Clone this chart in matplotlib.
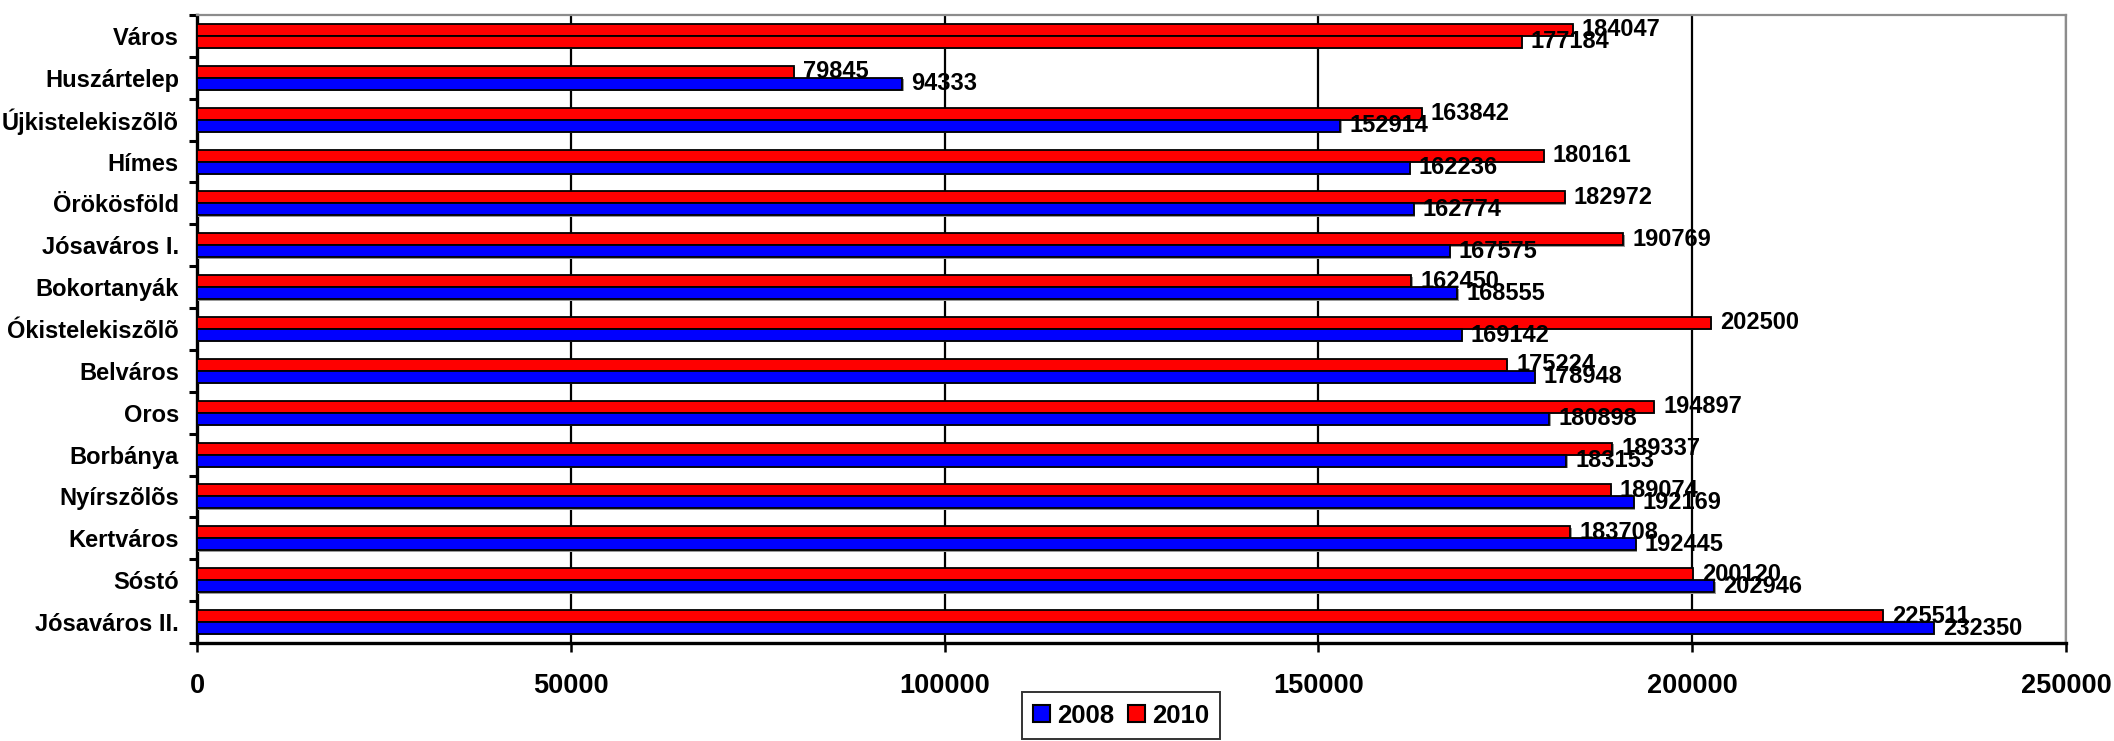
import matplotlib
matplotlib.use("Agg")
import matplotlib.pyplot as plt
import matplotlib.patheffects as pe
from matplotlib.patches import Patch
import numpy as np

categories = ["Város", "Huszártelep", "Újkistelekiszõlõ", "Hímes", "Örökösföld",
              "Jósaváros I.", "Bokortanyák", "Ókistelekiszõlõ", "Belváros", "Oros",
              "Borbánya", "Nyírszõlõs", "Kertváros", "Sóstó", "Jósaváros II."]
values_2008 = [177184, 94333, 152914, 162236, 162774, 167575, 168555, 169142,
               178948, 180898, 183153, 192169, 192445, 202946, 232350]
values_2010 = [184047, 79845, 163842, 180161, 182972, 190769, 162450, 202500,
               175224, 194897, 189337, 189074, 183708, 200120, 225511]
series_labels = ["2008", "2010"]
x_ticks = [0, 50000, 100000, 150000, 200000, 250000]

BLUE = "#0000FF"
RED = "#FF0000"
FONT = "Liberation Sans"

plt.rcParams['font.family'] = [FONT, 'DejaVu Sans']
plt.rcParams['font.weight'] = 'bold'

fig = plt.figure(figsize=(21.14, 7.41), dpi=100)
ax = fig.add_axes([197/2114, 1-643/741, (2066-197)/2114, (643-15)/741])

n = len(categories)
y = np.arange(n)
h = 0.287
colors_2008 = [RED] + [BLUE] * (n - 1)

shadow = [pe.SimplePatchShadow(offset=(1.0, -1.0), shadow_rgbFace='#999999', alpha=1.0), pe.Normal()]

b10 = ax.barh(y - h/2, values_2010, height=h, color=RED, edgecolor='black',
              linewidth=1.3, zorder=3)
b08 = ax.barh(y + h/2, values_2008, height=h, color=colors_2008, edgecolor='black',
              linewidth=1.3, zorder=3)
for b in list(b10) + list(b08):
    b.set_path_effects(shadow)

for yi, v in zip(y - h/2, values_2010):
    ax.annotate(f"{v}", (v, yi), xytext=(6.5, 0), textcoords='offset points',
                va='center', ha='left', fontsize=17, fontweight='bold', zorder=5)
for yi, v in zip(y + h/2, values_2008):
    ax.annotate(f"{v}", (v, yi), xytext=(6.5, 0), textcoords='offset points',
                va='center', ha='left', fontsize=17, fontweight='bold', zorder=5)

ax.set_xlim(0, 250000)
ax.set_ylim(n - 0.5, -0.5)

ax.set_xticks(x_ticks)
ax.set_xticklabels([str(t) for t in x_ticks], fontsize=19.5, fontweight='bold')
ax.tick_params(axis='x', direction='out', length=6.5, width=1.8, pad=15, colors='black')

ax.set_yticks(np.arange(-0.5, n, 1.0))
ax.set_yticklabels([])
ax.tick_params(axis='y', which='major', direction='out', length=5.5, width=2.2)
ax.set_yticks(y, minor=True)
ax.set_yticklabels(categories, minor=True, fontsize=17, fontweight='bold')
ax.tick_params(axis='y', which='minor', length=0, pad=13)

ax.xaxis.grid(True, color='black', linewidth=1.6, zorder=0)
ax.set_axisbelow(True)

ax.spines['left'].set_linewidth(2.4)
ax.spines['bottom'].set_linewidth(2.4)
ax.spines['left'].set_color('black')
ax.spines['bottom'].set_color('black')
ax.spines['top'].set_color('#8c8c8c')
ax.spines['top'].set_linewidth(1.6)
ax.spines['right'].set_color('#8c8c8c')
ax.spines['right'].set_linewidth(1.6)

handles = [Patch(facecolor=BLUE, edgecolor='black', linewidth=1.5),
           Patch(facecolor=RED, edgecolor='black', linewidth=1.5)]
leg = fig.legend(handles, series_labels, loc='upper center',
                 bbox_to_anchor=(1121/2114, 1-692/741), ncol=2, frameon=True,
                 fancybox=False, edgecolor='black', fontsize=18.5,
                 handlelength=0.66, handleheight=0.66, handletextpad=0.27,
                 columnspacing=0.53, borderpad=0.45, borderaxespad=0)
leg.get_frame().set_linewidth(1.4)
for t in leg.get_texts():
    t.set_fontweight('bold')

fig.savefig("out.png", dpi=100)
